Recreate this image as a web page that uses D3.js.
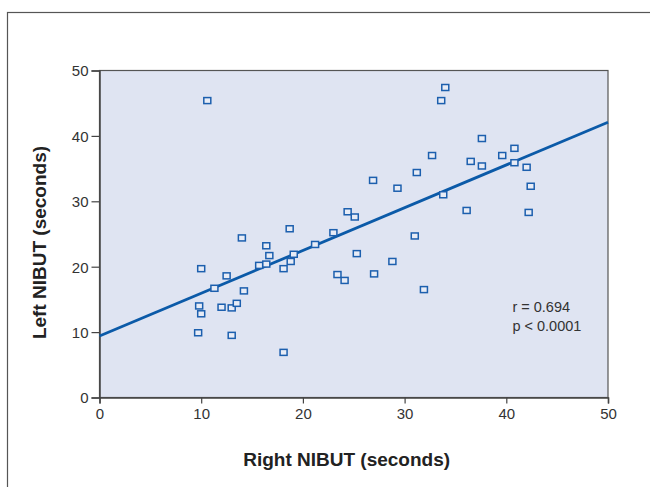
<!DOCTYPE html>
<html>
<head>
<meta charset="utf-8">
<script src="https://cdn.jsdelivr.net/npm/d3@7"></script>
<style>
  body { margin: 0; background: #fff; }
  svg { display: block; }
</style>
</head>
<body>
<div id="container"></div>
<script>
// data (seconds)
const rightNibut = [10.6, 34.0, 33.6, 32.7, 31.2, 26.9, 29.3, 33.8, 24.4, 25.1,
  18.7, 23.0, 31.0, 37.6, 40.8, 39.6, 36.5, 37.6, 40.8, 42.0,
  42.4, 36.1, 42.2, 14.0, 16.4, 16.7, 15.7, 16.4, 10.0, 12.5,
  11.3, 14.2, 9.8, 12.0, 13.0, 13.5, 10.0, 9.7, 13.0, 21.2,
  19.1, 25.3, 18.8, 28.8, 18.1, 23.4, 24.1, 27.0, 31.9, 18.1]
const leftNibut = [45.4, 47.4, 45.4, 37.0, 34.4, 33.2, 32.0, 31.0, 28.4, 27.6,
  25.8, 25.2, 24.7, 39.6, 38.1, 37.0, 36.1, 35.4, 35.9, 35.2,
  32.3, 28.6, 28.3, 24.4, 23.2, 21.7, 20.2, 20.4, 19.7, 18.6,
  16.7, 16.3, 14.0, 13.8, 13.7, 14.4, 12.8, 9.9, 9.5, 23.4,
  21.9, 22.0, 20.8, 20.8, 19.7, 18.8, 17.9, 18.9, 16.5, 6.9]
const xTicks = [0, 10, 20, 30, 40, 50]
const yTicks = [0, 10, 20, 30, 40, 50]
const fit = {intercept: 9.4, slope: 0.654}
const stats = ["r = 0.694", "p < 0.0001"]

const data = rightNibut.map((x, i) => ({x: x, y: leftNibut[i]}))

const margin = {top: 70.5, right: 42, bottom: 89.5, left: 99.5}
const W = 650, H = 487
const width = W - margin.left - margin.right
const height = H - margin.top - margin.bottom

const root = d3.select("#container").append("svg")
  .attr("width", W)
  .attr("height", H)

// outer frame
root.append("rect")
  .attr("x", 7.5).attr("y", 12.5)
  .attr("width", 700).attr("height", 500)
  .attr("fill", "none")
  .attr("stroke", "#555")
  .attr("stroke-width", 1.2)

const svg = root.append("g")
  .attr("transform", "translate(" + margin.left + "," + margin.top + ")")

const xScale = d3.scaleLinear().domain([0, 50]).range([0, width])
const yScale = d3.scaleLinear().domain([0, 50]).range([height, 0])

svg.append("rect")
  .attr("width", width).attr("height", height)
  .attr("fill", "#dfe4f2")
  .attr("stroke", "#555")
  .attr("stroke-width", 1.2)

// axes
const xAxis = svg.append("g")
  .attr("transform", "translate(0," + height + ")")
  .call(d3.axisBottom(xScale).tickValues(xTicks).tickSize(6).tickPadding(5))
const yAxis = svg.append("g")
  .call(d3.axisLeft(yScale).tickValues(yTicks).tickSize(8).tickPadding(3))

;[xAxis, yAxis].forEach(a => {
  a.select(".domain").attr("stroke", "#444").attr("stroke-width", 1.5)
  a.selectAll(".tick line").attr("stroke", "#444").attr("stroke-width", 1.2)
  a.selectAll(".tick text")
    .style("font-family", "'Liberation Sans', Arial, sans-serif")
    .style("font-size", "15px")
    .attr("fill", "#333")
})
yAxis.selectAll(".tick text").attr("dy", "0.36em")

// regression line
const line = d3.line().x(d => xScale(d)).y(d => yScale(fit.intercept + fit.slope * d))
svg.append("path")
  .datum([0, 50])
  .attr("d", line)
  .attr("fill", "none")
  .attr("stroke", "#0b5aa8")
  .attr("stroke-width", 2.8)

// points
svg.selectAll("rect.pt")
  .data(data)
  .enter()
  .append("rect")
  .attr("class", "pt")
  .attr("x", d => xScale(d.x) - 3.5)
  .attr("y", d => yScale(d.y) - 3)
  .attr("width", 7)
  .attr("height", 6)
  .attr("fill", "#e8ecf6")
  .attr("stroke", "#1c5fae")
  .attr("stroke-width", 1.5)

// stats text
svg.selectAll("text.stat")
  .data(stats)
  .enter()
  .append("text")
  .attr("class", "stat")
  .attr("x", xScale(40.6))
  .attr("y", (d, i) => yScale(13.0) + i * 19)
  .style("font-family", "'Liberation Sans', Arial, sans-serif")
  .style("font-size", "14.5px")
  .attr("fill", "#333")
  .text(d => d)

// axis titles
svg.append("text")
  .attr("text-anchor", "middle")
  .attr("x", xScale(24.3))
  .attr("y", height + 68)
  .style("font-family", "'Liberation Sans', Arial, sans-serif")
  .style("font-size", "19px")
  .style("font-weight", "bold")
  .attr("fill", "#222")
  .text("Right NIBUT (seconds)")

svg.append("text")
  .attr("text-anchor", "middle")
  .attr("transform", "rotate(-90)")
  .attr("x", -(yScale(23.7)))
  .attr("y", 46 - margin.left)
  .style("font-family", "'Liberation Sans', Arial, sans-serif")
  .style("font-size", "19px")
  .style("font-weight", "bold")
  .attr("fill", "#222")
  .text("Left NIBUT (seconds)")
</script>
</body>
</html>
